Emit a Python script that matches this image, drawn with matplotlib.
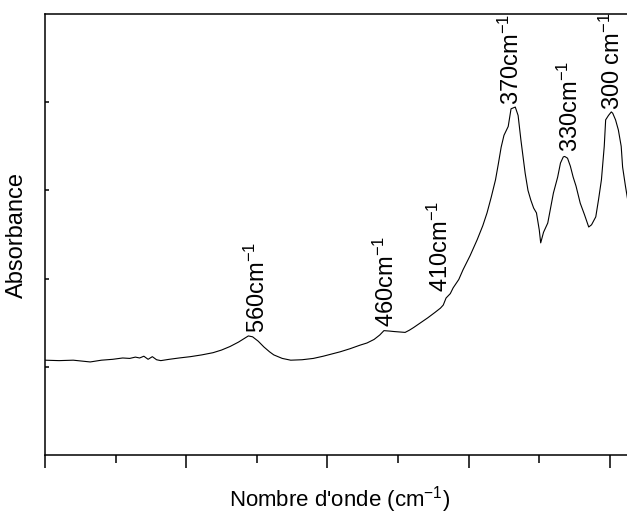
import numpy as np
import matplotlib
matplotlib.use('Agg')
import matplotlib.pyplot as plt
import matplotlib.ticker as ticker

plt.rcParams['font.family'] = ['Liberation Sans', 'DejaVu Sans']
plt.rcParams['mathtext.default'] = 'regular'

# Far-IR spectrum (wavenumber in cm-1, absorbance in arb. units)
wavenumber = [700, 690, 680, 668, 660, 652, 645, 640, 636, 633, 630, 627, 624, 621, 618,
              612, 605, 597, 589, 581, 575, 569, 563, 558, 556, 553, 549, 545, 541, 538,
              532, 526, 518, 510, 503, 497, 491, 484, 477, 472, 467, 463, 460, 456, 453,
              449, 445, 442, 439, 434, 429, 424, 420, 418, 416, 413, 411, 407, 404, 399,
              394, 390, 387, 384, 381, 379, 377, 375, 372, 370, 367, 365, 363, 360, 358,
              356, 354, 352, 350, 349, 347, 344, 342, 340, 337, 335, 333, 332, 330, 328,
              326, 324, 321, 318, 315, 313, 310, 308, 306, 304, 303, 301, 299, 298, 296,
              294, 292, 291, 289, 287]
absorbance = [0.215, 0.214, 0.215, 0.211, 0.215, 0.217, 0.220, 0.219, 0.222, 0.220, 0.224, 0.217, 0.223, 0.216, 0.214,
              0.217, 0.220, 0.223, 0.227, 0.232, 0.238, 0.246, 0.256, 0.266, 0.270, 0.268, 0.258, 0.245, 0.234, 0.227,
              0.219, 0.215, 0.216, 0.219, 0.224, 0.229, 0.234, 0.241, 0.249, 0.254, 0.262, 0.272, 0.282, 0.281, 0.280,
              0.279, 0.278, 0.283, 0.289, 0.300, 0.311, 0.323, 0.333, 0.340, 0.356, 0.366, 0.379, 0.398, 0.420, 0.452,
              0.488, 0.520, 0.549, 0.585, 0.624, 0.660, 0.698, 0.725, 0.745, 0.785, 0.789, 0.770, 0.714, 0.639, 0.600,
              0.578, 0.560, 0.549, 0.510, 0.481, 0.505, 0.526, 0.560, 0.594, 0.630, 0.662, 0.676, 0.677, 0.673, 0.655,
              0.630, 0.610, 0.571, 0.545, 0.517, 0.522, 0.540, 0.580, 0.624, 0.700, 0.760, 0.770, 0.778, 0.775, 0.760,
              0.737, 0.700, 0.653, 0.610, 0.571]

# Band assignments: (label, wavenumber, absorbance at label foot)
peak_labels = ['560cm$^{-1}$', '460cm$^{-1}$', '410cm$^{-1}$', '370cm$^{-1}$', '330cm$^{-1}$', '300 cm$^{-1}$']
peak_x = [550, 458, 420, 369.5, 328, 298]
peak_y = [0.277, 0.290, 0.370, 0.794, 0.687, 0.782]

fig = plt.figure(figsize=(6.27, 5.16), dpi=100)
ax = fig.add_axes([45 / 627, 1 - 455 / 516, 1 - 45 / 627 + 0.002, (455 - 14) / 516])

ax.plot(wavenumber, absorbance, color='black', linewidth=0.8)

for lab, x, y in zip(peak_labels, peak_x, peak_y):
    ax.text(x, y, lab, rotation=90, ha='center', va='bottom', fontsize=17)

ax.set_xlim(700, 287)
ax.set_ylim(0, 1)
ax.spines['right'].set_visible(False)
for s in ['left', 'top', 'bottom']:
    ax.spines[s].set_linewidth(1.1)

ax.xaxis.set_major_locator(ticker.MultipleLocator(100))
ax.xaxis.set_minor_locator(ticker.MultipleLocator(50))
ax.yaxis.set_major_locator(ticker.FixedLocator([0.2, 0.4, 0.6, 0.8]))
ax.tick_params(axis='x', which='major', direction='out', length=9, width=1.1, labelbottom=False)
ax.tick_params(axis='x', which='minor', direction='out', length=6, width=1.1)
ax.tick_params(axis='y', which='major', direction='in', length=3, width=1.1, labelleft=False)

# x label placed directly in figure coords (sits close to the bottom edge)
fig.text(340 / 627, 1 - 500 / 516, "Nombre d'onde (cm$^{-1}$)", fontsize=16,
         ha='center', va='center')
ax.set_ylabel('Absorbance', fontsize=17, labelpad=12)

fig.savefig('out.png', dpi=100)
